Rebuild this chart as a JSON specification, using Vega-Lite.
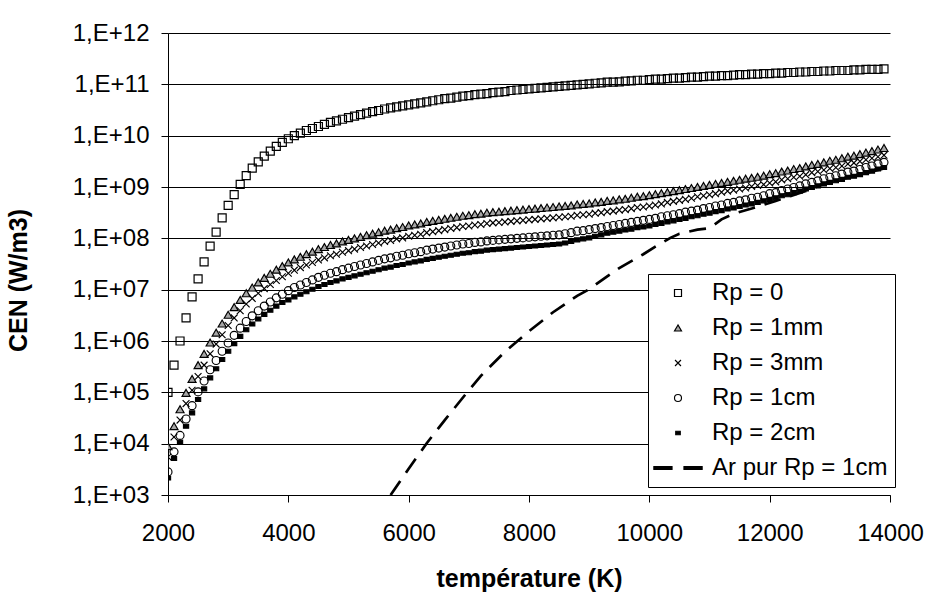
{
"$schema": "https://vega.github.io/schema/vega-lite/v6.json",
"width": 722, "height": 462,
"autosize": {"type": "none"},
"padding": {"left": 168, "top": 33, "right": 37, "bottom": 104},
"background": "white",
"config": {"font": "Liberation Sans", "view": {"stroke": null}},
"datasets": {
"main": [
{"T":2000,"a":1e5,"b":8.91e3,"c":5.50e3,"d":2.82e3,"e":2.14e3},
{"T":2100,"a":3.39e5,"b":2.19e4,"c":1.35e4,"d":6.92e3,"e":5.13e3},
{"T":2200,"a":1.00e6,"b":4.68e4,"c":2.88e4,"d":1.45e4,"e":1.07e4},
{"T":2300,"a":2.82e6,"b":9.77e4,"c":6.03e4,"d":3.02e4,"e":2.19e4},
{"T":2400,"a":7.24e6,"b":1.82e5,"c":1.10e5,"d":5.50e4,"e":3.98e4},
{"T":2500,"a":1.62e7,"b":3.39e5,"c":2.04e5,"d":1.02e5,"e":7.24e4},
{"T":2600,"a":3.47e7,"b":5.62e5,"c":3.39e5,"d":1.66e5,"e":1.17e5},
{"T":2700,"a":7.08e7,"b":9.33e5,"c":5.62e5,"d":2.75e5,"e":1.91e5},
{"T":2800,"a":1.32e8,"b":1.45e6,"c":8.71e5,"d":4.17e5,"e":2.88e5},
{"T":2900,"a":2.51e8,"b":2.19e6,"c":1.32e6,"d":6.31e5,"e":4.37e5},
{"T":3000,"a":4.37e8,"b":3.24e6,"c":2.00e6,"d":9.12e5,"e":6.31e5},
{"T":3100,"a":7.08e8,"b":4.57e6,"c":2.82e6,"d":1.29e6,"e":8.91e5},
{"T":3200,"a":1.12e9,"b":6.31e6,"c":3.89e6,"d":1.78e6,"e":1.23e6},
{"T":3300,"a":1.66e9,"b":8.51e6,"c":5.25e6,"d":2.40e6,"e":1.66e6},
{"T":3400,"a":2.34e9,"b":1.10e7,"c":6.76e6,"d":3.09e6,"e":2.14e6},
{"T":3500,"a":3.09e9,"b":1.38e7,"c":8.51e6,"d":3.89e6,"e":2.69e6},
{"T":3600,"a":3.98e9,"b":1.70e7,"c":1.05e7,"d":4.79e6,"e":3.31e6},
{"T":3700,"a":5.01e9,"b":2.04e7,"c":1.26e7,"d":5.75e6,"e":3.98e6},
{"T":3800,"a":6.17e9,"b":2.45e7,"c":1.51e7,"d":6.92e6,"e":4.79e6},
{"T":3900,"a":7.41e9,"b":2.88e7,"c":1.78e7,"d":8.13e6,"e":5.62e6},
{"T":4000,"a":8.71e9,"b":3.39e7,"c":2.09e7,"d":9.55e6,"e":6.31e6},
{"T":4100,"a":1.00e10,"b":3.89e7,"c":2.40e7,"d":1.10e7,"e":7.24e6},
{"T":4200,"a":1.12e10,"b":4.37e7,"c":2.69e7,"d":1.23e7,"e":8.13e6},
{"T":4300,"a":1.26e10,"b":4.90e7,"c":3.02e7,"d":1.38e7,"e":9.12e6},
{"T":4400,"a":1.38e10,"b":5.50e7,"c":3.39e7,"d":1.55e7,"e":1.02e7},
{"T":4500,"a":1.51e10,"b":6.17e7,"c":3.80e7,"d":1.74e7,"e":1.15e7},
{"T":4600,"a":1.66e10,"b":6.76e7,"c":4.17e7,"d":1.91e7,"e":1.26e7},
{"T":4700,"a":1.82e10,"b":7.41e7,"c":4.57e7,"d":2.09e7,"e":1.38e7},
{"T":4800,"a":1.95e10,"b":7.94e7,"c":4.90e7,"d":2.24e7,"e":1.48e7},
{"T":4900,"a":2.09e10,"b":8.71e7,"c":5.37e7,"d":2.45e7,"e":1.62e7},
{"T":5000,"a":2.24e10,"b":9.33e7,"c":5.75e7,"d":2.63e7,"e":1.74e7},
{"T":5100,"a":2.40e10,"b":1.00e8,"c":6.17e7,"d":2.82e7,"e":1.86e7},
{"T":5200,"a":2.57e10,"b":1.07e8,"c":6.61e7,"d":3.02e7,"e":2.00e7},
{"T":5300,"a":2.75e10,"b":1.15e8,"c":7.08e7,"d":3.24e7,"e":2.14e7},
{"T":5400,"a":2.95e10,"b":1.23e8,"c":7.59e7,"d":3.47e7,"e":2.29e7},
{"T":5500,"a":3.09e10,"b":1.32e8,"c":8.13e7,"d":3.72e7,"e":2.45e7},
{"T":5600,"a":3.31e10,"b":1.41e8,"c":8.71e7,"d":3.98e7,"e":2.63e7},
{"T":5700,"a":3.47e10,"b":1.48e8,"c":9.12e7,"d":4.17e7,"e":2.75e7},
{"T":5800,"a":3.63e10,"b":1.58e8,"c":9.77e7,"d":4.47e7,"e":2.95e7},
{"T":5900,"a":3.80e10,"b":1.66e8,"c":1.02e8,"d":4.68e7,"e":3.09e7},
{"T":6000,"a":3.98e10,"b":1.78e8,"c":1.10e8,"d":5.01e7,"e":3.31e7},
{"T":6100,"a":4.17e10,"b":1.86e8,"c":1.15e8,"d":5.25e7,"e":3.47e7},
{"T":6200,"a":4.37e10,"b":1.95e8,"c":1.20e8,"d":5.50e7,"e":3.63e7},
{"T":6300,"a":4.57e10,"b":2.09e8,"c":1.29e8,"d":5.89e7,"e":3.89e7},
{"T":6400,"a":4.79e10,"b":2.19e8,"c":1.35e8,"d":6.17e7,"e":4.07e7},
{"T":6500,"a":5.01e10,"b":2.29e8,"c":1.41e8,"d":6.46e7,"e":4.27e7},
{"T":6600,"a":5.25e10,"b":2.40e8,"c":1.48e8,"d":6.76e7,"e":4.47e7},
{"T":6700,"a":5.37e10,"b":2.51e8,"c":1.55e8,"d":7.08e7,"e":4.68e7},
{"T":6800,"a":5.62e10,"b":2.63e8,"c":1.62e8,"d":7.41e7,"e":4.90e7},
{"T":6900,"a":5.89e10,"b":2.75e8,"c":1.70e8,"d":7.76e7,"e":5.13e7},
{"T":7000,"a":6.03e10,"b":2.82e8,"c":1.74e8,"d":7.94e7,"e":5.25e7},
{"T":7100,"a":6.31e10,"b":2.95e8,"c":1.82e8,"d":8.32e7,"e":5.50e7},
{"T":7200,"a":6.46e10,"b":3.02e8,"c":1.86e8,"d":8.51e7,"e":5.62e7},
{"T":7300,"a":6.61e10,"b":3.16e8,"c":1.95e8,"d":8.91e7,"e":5.89e7},
{"T":7400,"a":6.92e10,"b":3.24e8,"c":2.00e8,"d":9.12e7,"e":6.03e7},
{"T":7500,"a":7.08e10,"b":3.31e8,"c":2.04e8,"d":9.33e7,"e":6.17e7},
{"T":7600,"a":7.24e10,"b":3.39e8,"c":2.09e8,"d":9.55e7,"e":6.31e7},
{"T":7700,"a":7.59e10,"b":3.47e8,"c":2.14e8,"d":9.77e7,"e":6.46e7},
{"T":7800,"a":7.76e10,"b":3.55e8,"c":2.19e8,"d":1.00e8,"e":6.61e7},
{"T":7900,"a":7.94e10,"b":3.63e8,"c":2.24e8,"d":1.02e8,"e":6.76e7},
{"T":8000,"a":8.13e10,"b":3.72e8,"c":2.29e8,"d":1.05e8,"e":6.92e7},
{"T":8100,"a":8.32e10,"b":3.80e8,"c":2.34e8,"d":1.07e8,"e":7.08e7},
{"T":8200,"a":8.51e10,"b":3.89e8,"c":2.40e8,"d":1.10e8,"e":7.24e7},
{"T":8300,"a":8.71e10,"b":3.98e8,"c":2.45e8,"d":1.12e8,"e":7.41e7},
{"T":8400,"a":8.91e10,"b":4.07e8,"c":2.51e8,"d":1.15e8,"e":7.59e7},
{"T":8500,"a":9.12e10,"b":4.17e8,"c":2.57e8,"d":1.17e8,"e":7.76e7},
{"T":8600,"a":9.33e10,"b":4.27e8,"c":2.63e8,"d":1.23e8,"e":8.13e7},
{"T":8700,"a":9.55e10,"b":4.37e8,"c":2.69e8,"d":1.29e8,"e":8.71e7},
{"T":8800,"a":9.77e10,"b":4.57e8,"c":2.82e8,"d":1.38e8,"e":9.33e7},
{"T":8900,"a":1.00e11,"b":4.68e8,"c":2.88e8,"d":1.41e8,"e":9.77e7},
{"T":9000,"a":1.02e11,"b":4.79e8,"c":2.95e8,"d":1.48e8,"e":1.02e8},
{"T":9100,"a":1.05e11,"b":5.01e8,"c":3.09e8,"d":1.55e8,"e":1.10e8},
{"T":9200,"a":1.07e11,"b":5.13e8,"c":3.16e8,"d":1.62e8,"e":1.17e8},
{"T":9300,"a":1.10e11,"b":5.37e8,"c":3.31e8,"d":1.70e8,"e":1.26e8},
{"T":9400,"a":1.10e11,"b":5.50e8,"c":3.39e8,"d":1.78e8,"e":1.32e8},
{"T":9500,"a":1.12e11,"b":5.75e8,"c":3.55e8,"d":1.86e8,"e":1.38e8},
{"T":9600,"a":1.15e11,"b":5.89e8,"c":3.63e8,"d":1.95e8,"e":1.45e8},
{"T":9700,"a":1.17e11,"b":6.17e8,"c":3.80e8,"d":2.04e8,"e":1.51e8},
{"T":9800,"a":1.20e11,"b":6.46e8,"c":3.98e8,"d":2.14e8,"e":1.62e8},
{"T":9900,"a":1.20e11,"b":6.61e8,"c":4.07e8,"d":2.24e8,"e":1.66e8},
{"T":10000,"a":1.23e11,"b":6.92e8,"c":4.27e8,"d":2.34e8,"e":1.74e8},
{"T":10100,"a":1.26e11,"b":7.24e8,"c":4.47e8,"d":2.45e8,"e":1.86e8},
{"T":10200,"a":1.26e11,"b":7.59e8,"c":4.68e8,"d":2.63e8,"e":1.95e8},
{"T":10300,"a":1.29e11,"b":7.94e8,"c":5.01e8,"d":2.75e8,"e":2.09e8},
{"T":10400,"a":1.32e11,"b":8.32e8,"c":5.25e8,"d":2.88e8,"e":2.19e8},
{"T":10500,"a":1.32e11,"b":8.71e8,"c":5.50e8,"d":3.02e8,"e":2.34e8},
{"T":10600,"a":1.35e11,"b":9.12e8,"c":5.75e8,"d":3.24e8,"e":2.45e8},
{"T":10700,"a":1.38e11,"b":9.55e8,"c":6.03e8,"d":3.39e8,"e":2.63e8},
{"T":10800,"a":1.38e11,"b":1.00e9,"c":6.46e8,"d":3.55e8,"e":2.75e8},
{"T":10900,"a":1.41e11,"b":1.05e9,"c":6.76e8,"d":3.80e8,"e":2.95e8},
{"T":11000,"a":1.45e11,"b":1.10e9,"c":7.08e8,"d":3.98e8,"e":3.09e8},
{"T":11100,"a":1.45e11,"b":1.15e9,"c":7.41e8,"d":4.27e8,"e":3.31e8},
{"T":11200,"a":1.48e11,"b":1.20e9,"c":7.94e8,"d":4.47e8,"e":3.47e8},
{"T":11300,"a":1.48e11,"b":1.26e9,"c":8.32e8,"d":4.79e8,"e":3.72e8},
{"T":11400,"a":1.51e11,"b":1.32e9,"c":8.71e8,"d":5.01e8,"e":3.89e8},
{"T":11500,"a":1.55e11,"b":1.38e9,"c":9.12e8,"d":5.37e8,"e":4.17e8},
{"T":11600,"a":1.55e11,"b":1.45e9,"c":9.55e8,"d":5.62e8,"e":4.47e8},
{"T":11700,"a":1.58e11,"b":1.51e9,"c":1.02e9,"d":6.03e8,"e":4.68e8},
{"T":11800,"a":1.58e11,"b":1.58e9,"c":1.07e9,"d":6.31e8,"e":5.01e8},
{"T":11900,"a":1.62e11,"b":1.66e9,"c":1.12e9,"d":6.76e8,"e":5.37e8},
{"T":12000,"a":1.62e11,"b":1.78e9,"c":1.20e9,"d":7.41e8,"e":5.75e8},
{"T":12100,"a":1.66e11,"b":1.86e9,"c":1.26e9,"d":7.76e8,"e":6.17e8},
{"T":12200,"a":1.66e11,"b":2.00e9,"c":1.38e9,"d":8.51e8,"e":6.76e8},
{"T":12300,"a":1.70e11,"b":2.09e9,"c":1.45e9,"d":9.12e8,"e":7.08e8},
{"T":12400,"a":1.70e11,"b":2.24e9,"c":1.55e9,"d":9.77e8,"e":7.76e8},
{"T":12500,"a":1.74e11,"b":2.34e9,"c":1.62e9,"d":1.05e9,"e":8.32e8},
{"T":12600,"a":1.74e11,"b":2.51e9,"c":1.74e9,"d":1.15e9,"e":9.12e8},
{"T":12700,"a":1.78e11,"b":2.69e9,"c":1.91e9,"d":1.23e9,"e":9.77e8},
{"T":12800,"a":1.78e11,"b":2.82e9,"c":2.00e9,"d":1.32e9,"e":1.05e9},
{"T":12900,"a":1.82e11,"b":3.02e9,"c":2.14e9,"d":1.45e9,"e":1.15e9},
{"T":13000,"a":1.82e11,"b":3.24e9,"c":2.29e9,"d":1.55e9,"e":1.23e9},
{"T":13100,"a":1.86e11,"b":3.39e9,"c":2.40e9,"d":1.66e9,"e":1.32e9},
{"T":13200,"a":1.86e11,"b":3.63e9,"c":2.57e9,"d":1.78e9,"e":1.41e9},
{"T":13300,"a":1.86e11,"b":3.89e9,"c":2.82e9,"d":1.95e9,"e":1.55e9},
{"T":13400,"a":1.91e11,"b":4.07e9,"c":2.95e9,"d":2.04e9,"e":1.62e9},
{"T":13500,"a":1.91e11,"b":4.37e9,"c":3.16e9,"d":2.19e9,"e":1.74e9},
{"T":13600,"a":1.95e11,"b":4.68e9,"c":3.39e9,"d":2.40e9,"e":1.91e9},
{"T":13700,"a":1.95e11,"b":5.01e9,"c":3.63e9,"d":2.57e9,"e":2.04e9},
{"T":13800,"a":1.95e11,"b":5.37e9,"c":3.89e9,"d":2.82e9,"e":2.24e9},
{"T":13900,"a":2.00e11,"b":5.75e9,"c":4.17e9,"d":3.02e9,"e":2.40e9}
],
"ar": [
{"T":5700,"value":1.0e3},{"T":6000,"value":3.24e3},{"T":6300,"value":1.02e4},{"T":6600,"value":2.88e4},
{"T":7000,"value":1.10e5},{"T":7200,"value":2.09e5},{"T":7600,"value":6.17e5},{"T":8000,"value":1.55e6},
{"T":8400,"value":3.63e6},{"T":8800,"value":7.59e6},{"T":9000,"value":1.02e7},{"T":9300,"value":1.82e7},
{"T":9500,"value":2.63e7},{"T":9900,"value":4.90e7},{"T":10100,"value":6.92e7},{"T":10350,"value":1.02e8},
{"T":10500,"value":1.23e8},{"T":10800,"value":1.48e8},{"T":11000,"value":1.58e8},{"T":11200,"value":2.34e8},
{"T":11400,"value":3.02e8},{"T":11700,"value":3.80e8},{"T":12100,"value":5.37e8},{"T":12600,"value":8.32e8},
{"T":13000,"value":1.26e9},{"T":13500,"value":1.74e9},{"T":13900,"value":2.29e9}
]
},
"layer": [
{
"data": {"name": "main"},
"transform": [{"fold": ["a","b","c","d","e"], "as": ["serie","value"]}],
"mark": {"type": "point", "opacity": 1, "size": 64, "clip": true},
"encoding": {
"x": {"field": "T", "type": "quantitative",
 "scale": {"domain": [2000, 14000], "nice": false, "zero": false},
 "axis": {"values": [2000,4000,6000,8000,10000,12000,14000], "format": "d", "title": "température (K)",
  "grid": false, "tickSize": 7, "labelPadding": 19, "labelFontSize": 24, "labelFont": "Liberation Sans",
  "titleFontSize": 25, "titleFont": "Liberation Sans", "titleFontWeight": "bold", "titlePadding": 21,
  "domainColor": "black", "tickColor": "black", "labelColor": "black", "titleColor": "black", "labelFlush": false}},
"y": {"field": "value", "type": "quantitative",
 "scale": {"type": "log", "domain": [1000, 1e12], "nice": false},
 "axis": {"values": [1e3,1e4,1e5,1e6,1e7,1e8,1e9,1e10,1e11,1e12],
  "labelExpr": "'1,E+' + (round(log(datum.value)/LN10) < 10 ? '0' : '') + round(log(datum.value)/LN10)",
  "title": "CEN (W/m3)", "grid": true, "gridColor": "black", "gridWidth": 1, "tickSize": 7, "labelPadding": 12,
  "labelFontSize": 24, "labelFont": "Liberation Sans", "titleFontSize": 25, "titleFont": "Liberation Sans",
  "titleFontWeight": "bold", "titlePadding": 41, "titleY": 247, "domainColor": "black", "tickColor": "black",
  "labelColor": "black", "titleColor": "black"}},
"shape": {"field": "serie", "type": "nominal",
 "scale": {"domain": ["a","b","c","d","e","f"],
  "range": ["square", "triangle-up", "M-0.85,-0.85L0.85,0.85M-0.85,0.85L0.85,-0.85", "circle", "M-0.65,-0.5H0.65V0.5H-0.65Z", "M-6.9,-0.43H-1.7V0.43H-6.9ZM1.7,-0.43H6.9V0.43H1.7Z"]},
 "legend": {"orient": "none", "legendX": 480, "legendY": 241, "title": null, "strokeColor": "black", "fillColor": "white",
  "padding": 7, "labelFontSize": 24, "labelFont": "Liberation Sans", "labelColor": "black", "labelLimit": 400, "symbolSize": 49,
  "symbolOffset": 11, "labelOffset": 22, "rowPadding": 11,
  "labelExpr": "datum.label == 'a' ? 'Rp = 0' : datum.label == 'b' ? 'Rp = 1mm' : datum.label == 'c' ? 'Rp = 3mm' : datum.label == 'd' ? 'Rp = 1cm' : datum.label == 'e' ? 'Rp = 2cm' : 'Ar pur Rp = 1cm'"}},
"fill": {"field": "serie", "type": "nominal",
 "scale": {"domain": ["a","b","c","d","e","f"], "range": ["transparent", "#a6a6a6", "transparent", "transparent", "black", "black"]},
 "legend": {"orient": "none", "legendX": 480, "legendY": 241, "title": null}},
"stroke": {"field": "serie", "type": "nominal",
 "scale": {"domain": ["a","b","c","d","e","f"], "range": ["black", "black", "black", "black", "black", "black"]},
 "legend": {"orient": "none", "legendX": 480, "legendY": 241, "title": null}},
"strokeWidth": {"field": "serie", "type": "nominal",
 "scale": {"domain": ["a","b","c","d","e","f"], "range": [1.2, 1.1, 1.1, 1.1, 1, 0.5]},
 "legend": {"orient": "none", "legendX": 480, "legendY": 241, "title": null}}
}
},
{
"data": {"name": "ar"},
"mark": {"type": "line", "stroke": "black", "strokeWidth": 2.7, "strokeDash": [17, 10], "clip": true},
"encoding": {
"x": {"field": "T", "type": "quantitative"},
"y": {"field": "value", "type": "quantitative"}
}
}
]
}
